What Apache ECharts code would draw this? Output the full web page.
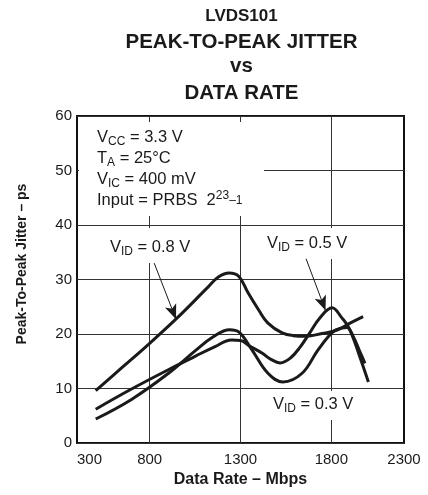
<!DOCTYPE html>
<html>
<head>
<meta charset="utf-8">
<script src="https://cdn.jsdelivr.net/npm/echarts@6/dist/echarts.min.js"></script>
<style>
  html, body { margin: 0; padding: 0; background: #fff; }
  #chart { width: 428px; height: 495px; }
</style>
</head>
<body>
<div id="chart"></div>
<script>
// axis ticks
const xTickValues = [400, 800, 1300, 1800, 2200];
const xTickLabels = ["300", "800", "1300", "1800", "2300"];
const xGridValues = [800, 1300, 1800];

// curves, [data rate, jitter]
const vid08 = [
  [503, 9.6], [650, 13.9], [800, 18.3], [950, 22.9], [1121, 28.6], [1180, 30.5],
  [1237, 31.2], [1290, 30.6], [1341, 27.6], [1400, 24.4], [1451, 22.0], [1529, 20.2],
  [1590, 19.7], [1660, 19.6], [1749, 20.1], [1831, 20.7], [1903, 22.0], [1975, 23.2]
];
const vid05 = [
  [503, 6.2], [700, 9.9], [900, 13.4], [1050, 15.9], [1160, 17.7], [1250, 18.9],
  [1300, 18.8], [1350, 17.8], [1418, 16.5], [1470, 15.3], [1518, 14.7], [1575, 15.6],
  [1628, 17.6], [1683, 20.3], [1738, 23.0], [1804, 24.8], [1857, 23.0], [1899, 21.0],
  [1958, 15.7], [2004, 11.2]
];
const vid03 = [
  [503, 4.4], [700, 8.0], [900, 12.7], [1050, 16.9], [1150, 19.5], [1240, 20.8],
  [1290, 20.4], [1363, 17.1], [1451, 12.8], [1534, 11.2], [1639, 12.8], [1727, 17.1],
  [1809, 20.4], [1857, 21.1], [1885, 21.2], [1921, 19.5], [1958, 16.7], [1985, 14.6]
];

// arrows from labels to curves
const arrow08 = [[825, 33.0], [945, 22.7]];
const arrow05 = [[1661, 33.8], [1768, 24.3]];

const FONT = "'Liberation Sans', Arial, Helvetica, sans-serif";
const INK = "#1a1a1a";

var myChart = echarts.init(document.getElementById("chart"));

function curve(data, arrow) {
  const s = {
    type: "line",
    data: data,
    smooth: 0.4,
    showSymbol: false,
    silent: true,
    lineStyle: { color: INK, width: 3 },
  };
  if (arrow) {
    s.markLine = {
      silent: true,
      symbol: ["none", "arrow"],
      symbolSize: [9, 15],
      label: { show: false },
      lineStyle: { color: INK, width: 1, type: "solid" },
      data: [[{ coord: arrow[0] }, { coord: arrow[1] }]],
    };
  }
  return s;
}

// white boxes behind the notes, they hide the grid lines
function mask(x, y, w, h) {
  return { type: "rect", z: 1, shape: { x: x, y: y, width: w, height: h }, style: { fill: "#fff" } };
}

function note(x, y, text, va) {
  return {
    type: "text",
    z: 3,
    x: x,
    y: y,
    style: {
      text: text,
      align: "left",
      verticalAlign: va || "middle",
      fill: INK,
      fontFamily: FONT,
      rich: {
        m: { fontSize: 16.5, lineHeight: 21, fontFamily: FONT, fill: INK },
        s: { fontSize: 12, lineHeight: 14, verticalAlign: "bottom", fontFamily: FONT, fill: INK },
        u: { fontSize: 12, lineHeight: 14, verticalAlign: "top", fontFamily: FONT, fill: INK },
        n: { fontSize: 12, lineHeight: 21, fontFamily: FONT, fill: INK },
      },
    },
  };
}

function heading(y, text, size) {
  return {
    type: "text",
    x: 241.5,
    y: y,
    style: {
      text: text,
      align: "center",
      verticalAlign: "middle",
      fill: INK,
      font: "bold " + size + "px " + FONT,
    },
  };
}

myChart.setOption({
  animation: false,
  backgroundColor: "#fff",
  textStyle: { fontFamily: FONT },
  grid: {
    left: 77,
    right: 24,
    top: 116,
    bottom: 52,
    show: true,
    borderColor: "#111",
    borderWidth: 2,
  },
  xAxis: {
    type: "value",
    min: 400,
    max: 2200,
    name: "Data Rate – Mbps",
    nameLocation: "middle",
    nameGap: 26,
    nameTextStyle: { fontSize: 16, fontWeight: "bold", color: INK, fontFamily: FONT },
    axisLine: { show: false },
    axisTick: { show: false, customValues: xGridValues },
    axisLabel: {
      customValues: xTickValues,
      formatter: (v) => xTickLabels[xTickValues.indexOf(v)],
      fontSize: 15,
      color: INK,
      margin: 9,
      alignMinLabel: "left",
    },
    splitLine: { show: true, lineStyle: { color: "#333", width: 1 } },
  },
  yAxis: {
    type: "value",
    min: 0,
    max: 60,
    interval: 10,
    name: "Peak-To-Peak Jitter – ps",
    nameLocation: "middle",
    nameGap: 48,
    nameTextStyle: {
      fontSize: 14,
      fontWeight: "bold",
      color: INK,
      fontFamily: FONT,
      padding: [0, 0, 0, 31],
    },
    axisLine: { show: false },
    axisTick: { show: false },
    axisLabel: { fontSize: 15, color: INK, margin: 5 },
    splitLine: { show: true, lineStyle: { color: "#333", width: 1 } },
  },
  series: [curve(vid08, arrow08), curve(vid05, arrow05), curve(vid03)],
  graphic: [
    heading(16, "LVDS101", 17),
    heading(42.5, "PEAK-TO-PEAK JITTER", 20.5),
    heading(66, "vs", 20.5),
    heading(93.5, "DATA RATE", 20.5),
    mask(79, 122, 185, 94),
    mask(104, 228, 94, 35),
    mask(262, 228, 92, 31),
    mask(268, 391, 92, 29),
    note(
      97,
      127,
      "{m|V}{s|CC}{m| = 3.3 V}\n{m|T}{s|A}{m| = 25°C}\n{m|V}{s|IC}{m| = 400 mV}\n{m|Input = PRBS  2}{u|23}{n|–1}",
      "top"
    ),
    note(110, 247.5, "{m|V}{s|ID}{m| = 0.8 V}"),
    note(267, 243, "{m|V}{s|ID}{m| = 0.5 V}"),
    note(273, 404, "{m|V}{s|ID}{m| = 0.3 V}"),
  ],
});
</script>
</body>
</html>
